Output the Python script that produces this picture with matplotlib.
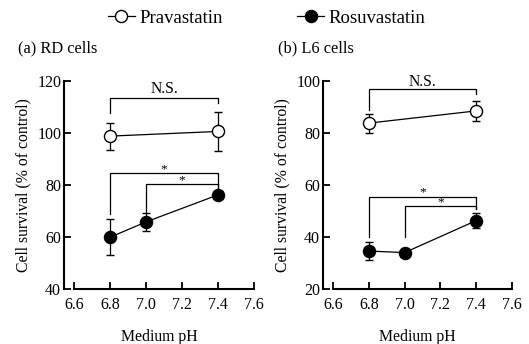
import matplotlib
matplotlib.use("Agg")
import matplotlib.pyplot as plt
from matplotlib.lines import Line2D

plt.rcParams['font.family'] = ['Liberation Serif', 'DejaVu Serif']

# ---- data ----
ph_prav = [6.8, 7.4]
ph_rosu = [6.8, 7.0, 7.4]

rd_prav = [98.8, 100.6]
rd_prav_err = [5.2, 7.5]
rd_rosu = [59.9, 65.8, 76.2]
rd_rosu_err = [7.0, 3.5, 1.5]

l6_prav = [83.8, 88.5]
l6_prav_err = [3.7, 4.0]
l6_rosu = [34.6, 34.0, 46.3]
l6_rosu_err = [3.5, 1.0, 3.0]

x_ticks = [6.6, 6.8, 7.0, 7.2, 7.4, 7.6]
x_ticklabels = ["6.6", "6.8", "7.0", "7.2", "7.4", "7.6"]
rd_yticks = [40, 60, 80, 100, 120]
l6_yticks = [20, 40, 60, 80, 100]

# brackets: (x_left, x_right, y_bar, y_left_end, y_right_end, label, label_y)
rd_brackets = [
    (6.8, 7.4, 113.5, 107.7, 111.5, "N.S.", 116.9),
    (6.8, 7.4, 84.6, 69.0, 79.0, "*", 86.0),
    (7.0, 7.4, 80.5, 69.5, 79.0, "*", 81.9),
]
l6_brackets = [
    (6.8, 7.4, 96.9, 88.8, 95.0, "N.S.", 99.6),
    (6.8, 7.4, 55.5, 40.0, 50.8, "*", 57.2),
    (7.0, 7.4, 51.9, 40.0, 50.8, "*", 53.2),
]

W, H = 529, 344
fig = plt.figure(figsize=(W / 100, H / 100), dpi=100)

def px(x0, y0, x1, y1):
    return [x0 / W, 1 - y1 / H, (x1 - x0) / W, (y1 - y0) / H]

axes_specs = [
    (px(64, 81, 254, 289), (40, 120), rd_yticks, rd_prav, rd_prav_err, rd_rosu, rd_rosu_err, rd_brackets, "(a) RD cells"),
    (px(323, 81, 512, 289), (20, 100), l6_yticks, l6_prav, l6_prav_err, l6_rosu, l6_rosu_err, l6_brackets, "(b) L6 cells"),
]

fs_tick = 11.5
fs_lab = 11.3
for rect, ylim, yticks, prav, prav_err, rosu, rosu_err, brackets, title in axes_specs:
    ax = fig.add_axes(rect)
    x0 = 6.6 - 10 / 180
    ax.set_xlim(x0, 7.6)
    ax.set_ylim(*ylim)
    ax.spines['top'].set_visible(False)
    ax.spines['right'].set_visible(False)
    for s in ('left', 'bottom'):
        ax.spines[s].set_linewidth(1.5)
    ax.spines['bottom'].set_bounds(6.6, 7.6)
    ax.set_xticks(x_ticks)
    ax.set_xticklabels(x_ticklabels)
    ax.set_yticks(yticks)
    ax.tick_params(direction='in', length=5, width=1.3, labelsize=fs_tick, pad=2)
    ax.tick_params(axis='x', pad=6)
    ax.errorbar(ph_prav, prav, yerr=prav_err, color='black', lw=0.9, elinewidth=0.9,
                capsize=3, capthick=0.9, marker='o', ms=8.7, mfc='white', mec='black',
                mew=1.0, zorder=3, clip_on=False)
    ax.errorbar(ph_rosu, rosu, yerr=rosu_err, color='black', lw=0.9, elinewidth=0.9,
                capsize=3, capthick=0.9, marker='o', ms=8.7, mfc='black', mec='black',
                mew=1.0, zorder=3, clip_on=False)
    for xl, xr, yb, yle, yre, lab, ly in brackets:
        ax.plot([xl, xl, xr, xr], [yle, yb, yb, yre], color='black', lw=0.9, clip_on=False)
        ax.text((xl + xr) / 2, ly, lab, ha='center', va='center',
                fontsize=fs_lab if lab != "*" else 9.5)
    ax.set_xlabel("Medium pH", fontsize=fs_lab, labelpad=11)
    ax.set_ylabel("Cell survival (% of control)", fontsize=fs_lab, labelpad=4)
    ax.text(-0.24, 1.155, title, transform=ax.transAxes, fontsize=fs_lab + 0.5,
            ha='left', va='center')

h1 = Line2D([], [], color='black', lw=0.9, marker='o', ms=8.7, mfc='white', mec='black')
h2 = Line2D([], [], color='black', lw=0.9, marker='o', ms=8.7, mfc='black', mec='black')
fig.legend([h1, h2], ["Pravastatin", "Rosuvastatin"], loc='center', bbox_to_anchor=(0.504, 1 - 18 / H),
           ncol=2, frameon=False, fontsize=13.5, handlelength=1.45, handletextpad=0.25,
           columnspacing=3.95)

fig.savefig("out.png", dpi=100)
